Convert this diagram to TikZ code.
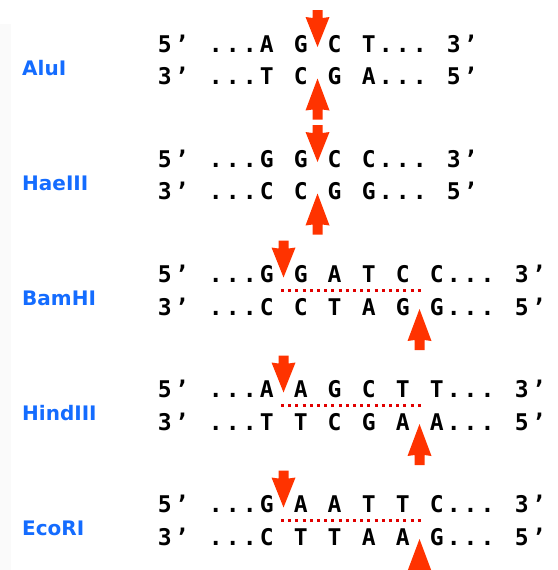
\documentclass[tikz,border=0pt]{standalone}
\usepackage{fontspec}
\newfontfamily\dnafont{DejaVu Sans Mono}
\newfontfamily\labfont{DejaVu Sans}
\newlength\dnapitch
\setlength\dnapitch{17pt}
\makeatletter
\def\dnaseq#1{\dna@loop#1\relax}
\def\dna@loop#1{\ifx\relax#1\else\ifx*#1\hbox to\dnapitch{}\else\hbox to\dnapitch{\hss#1\hss}\fi\expandafter\dna@loop\fi}
\makeatother
\definecolor{labelblue}{RGB}{20,108,255}
\definecolor{cutred}{RGB}{255,51,0}
\definecolor{dotred}{RGB}{225,0,0}
\begin{document}
\begin{tikzpicture}[x=1pt,y=-1pt,
  strand/.style={anchor=west, inner sep=0pt, font=\dnafont\bfseries\fontsize{23pt}{23pt}\selectfont, text height=16.8pt, text depth=0pt},
  enz/.style={anchor=west, inner sep=0pt, text=labelblue, font=\labfont\bfseries\fontsize{20pt}{20pt}\selectfont, text height=14.6pt, text depth=0pt},
  cutline/.style={draw=dotred, line width=3pt, dash pattern=on 3pt off 4.2pt},
  cutdown/.pic={\fill[cutred] (-5,-37) -- (5,-37) -- (5,-29) -- (12,-30) -- (0,0) -- (-12,-30) -- (-5,-29) -- cycle;},
  cutup/.pic={\fill[cutred] (-5,41) -- (5,41) -- (5,31) -- (12,32) -- (0,0) -- (-12,32) -- (-5,31) -- cycle;}
]
\useasboundingbox (0,0) rectangle (557,570);
\fill[black!2] (0,24) rectangle (11,570);

% AluI
\node[strand] (alu5) at (156,44) {\dnaseq{5’*...A*G*C*T...*3’}};
\node[strand] (alu3) at (156,76.5) {\dnaseq{3’*...T*C*G*A...*5’}};
\node[enz] (alu) at (22,68.5) {AluI};
\pic at (317.5,47) {cutdown};
\pic at (317.5,78.5) {cutup};

% HaeIII
\node[strand] (hae5) at (156,159) {\dnaseq{5’*...G*G*C*C...*3’}};
\node[strand] (hae3) at (156,191.5) {\dnaseq{3’*...C*C*G*G...*5’}};
\node[enz] (hae) at (22,183.5) {HaeIII};
\pic at (317.5,162) {cutdown};
\pic at (317.5,193.5) {cutup};

% BamHI
\node[strand] (bam5) at (156,274.5) {\dnaseq{5’*...G*G*A*T*C*C...*3’}};
\node[strand] (bam3) at (156,307) {\dnaseq{3’*...C*C*T*A*G*G...*5’}};
\node[enz] (bam) at (22,298) {BamHI};
\draw[cutline] (281,290) -- (421,290);
\pic at (283.5,277.5) {cutdown};
\pic at (419.5,309) {cutup};

% HindIII
\node[strand] (hind5) at (156,389.5) {\dnaseq{5’*...A*A*G*C*T*T...*3’}};
\node[strand] (hind3) at (156,422) {\dnaseq{3’*...T*T*C*G*A*A...*5’}};
\node[enz] (hind) at (22,413) {HindIII};
\draw[cutline] (281,405) -- (421,405);
\pic at (283.5,392.5) {cutdown};
\pic at (419.5,424) {cutup};

% EcoRI
\node[strand] (eco5) at (156,504.5) {\dnaseq{5’*...G*A*A*T*T*C...*3’}};
\node[strand] (eco3) at (156,537) {\dnaseq{3’*...C*T*T*A*A*G...*5’}};
\node[enz] (eco) at (22,528) {EcoRI};
\draw[cutline] (281,520) -- (421,520);
\pic at (283.5,507.5) {cutdown};
\pic at (419.5,539) {cutup};
\end{tikzpicture}
\end{document}
